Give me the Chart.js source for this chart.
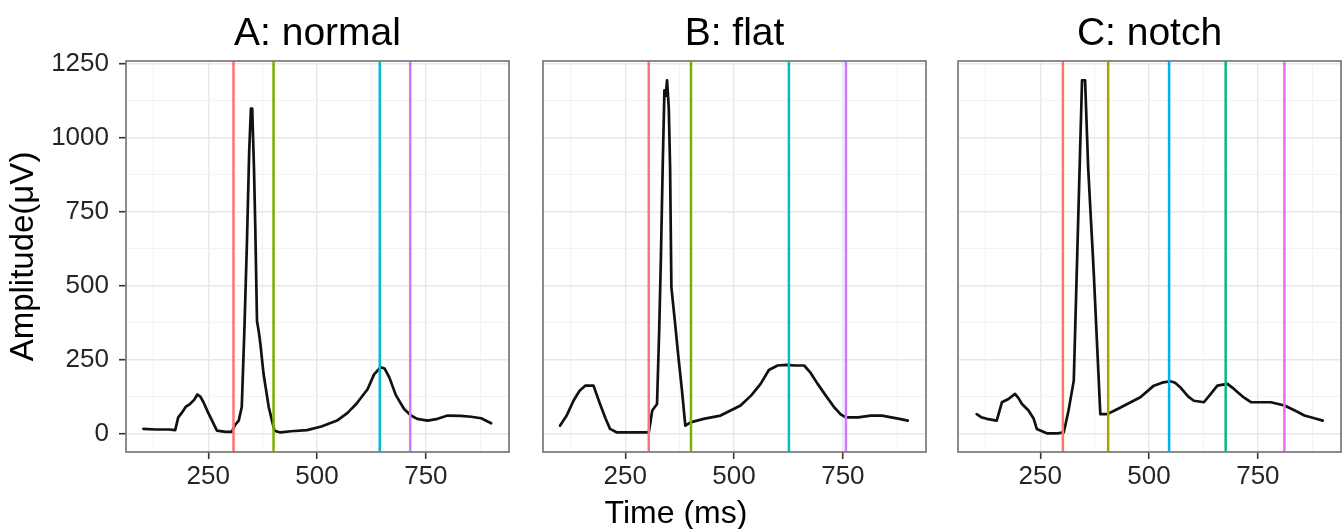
<!DOCTYPE html>
<html><head><meta charset="utf-8">
<script src="https://cdn.jsdelivr.net/npm/chart.js@4.4.1/dist/chart.umd.min.js"></script>
<style>
html,body{margin:0;padding:0;background:#fff;}
#wrap{position:relative;width:1342px;height:529px;overflow:hidden;background:#fff;}
canvas{position:absolute;top:0;}
</style></head><body>
<div id="wrap">
<canvas id="cA" width="520" height="529" style="left:0px"></canvas>
<canvas id="cB" width="420" height="529" style="left:520px"></canvas>
<canvas id="cC" width="402" height="529" style="left:940px"></canvas>
</div>
<script>
// ---- data ----
const panelTitles = ['A: normal', 'B: flat', 'C: notch'];
const xMajorTicks = [250, 500, 750];
const xMinorTicks = [125, 375, 625, 875];
const yMajorTicks = [0, 250, 500, 750, 1000, 1250];
const yMinorTicks = [125, 375, 625, 875, 1125];
const X_MIN = 61, X_MAX = 941, Y_MIN = -62, Y_MAX = 1258;

const timeA = [101,130,160,174,181,189,198,208,218,225,232,239,250,270,290,304,312,320,327,333,339,344,348,351,355,358,362,366,370,377,389,402,416,440,477,510,546,570,590,616,631,646,655,666,681,700,715,730,754,777,800,830,854,877,900];
const ampA  = [16,14,14,12,55,70,90,100,115,132,125,106,70,10,6,6,30,44,90,350,652,950,1097,1097,900,700,380,345,300,202,89,10,4,8,12,24,44,70,100,150,200,224,220,190,130,83,62,50,44,50,61,60,57,52,35];

const timeB = [100,115,131,145,158,177,192,205,215,231,260,290,304,308,312,318,323,328,332,336,340,343,346,348,350,353,356,364,372,380,388,400,430,469,515,540,561,580,600,620,640,661,676,692,710,730,745,757,785,814,840,861,880,899];
const ampB  = [27,60,111,145,162,162,100,50,16,4,4,4,4,40,78,90,100,350,600,900,1159,1140,1193,1193,1100,900,494,380,260,150,27,38,50,61,95,130,168,215,230,232,230,230,205,168,130,89,65,55,55,61,61,55,50,44];

const timeC = [104,115,127,150,162,177,192,200,208,223,235,242,265,290,304,315,327,335,346,353,360,373,388,404,430,450,480,511,530,549,560,572,590,603,626,645,657,680,695,715,734,760,780,811,835,857,880,899];
const ampC  = [66,55,50,44,106,117,134,120,100,78,50,16,1,1,4,78,179,606,1193,1193,900,540,66,66,85,100,123,162,172,177,172,156,125,111,106,140,162,168,151,125,106,106,106,95,78,61,52,44];

const vlinesA = [308, 400, 644, 714];
const vlinesB = [304, 401, 626, 757];
const vlinesC = [302, 406, 546, 676, 811];
const colors4 = ['#F8766D', '#7CAE00', '#00BFC4', '#C77CFF'];
const colors5 = ['#F8766D', '#A3A500', '#00B0F6', '#00BF7D', '#E76BF3'];

const FONT = '"Liberation Sans", Arial, Helvetica, sans-serif';

const panelPlugin = {
  id: 'panelDecor',
  afterDatasetsDraw(chart, args, opts) {
    const ca = chart.chartArea, ctx = chart.ctx;
    ctx.save();
    ctx.strokeStyle = '#7f7f7f';
    ctx.lineWidth = 1.8;
    ctx.strokeRect(ca.left, ca.top, ca.right - ca.left, ca.bottom - ca.top);
    ctx.restore();
  },
  afterDraw(chart, args, opts) {
    const ca = chart.chartArea, ctx = chart.ctx;
    ctx.save();
    ctx.fillStyle = '#000';
    ctx.font = '39px ' + FONT;
    ctx.textAlign = 'center';
    ctx.textBaseline = 'alphabetic';
    ctx.fillText(opts.title, (ca.left + ca.right) / 2, 45);
    if (opts.xTitle) {
      ctx.font = '32px ' + FONT;
      ctx.fillText(opts.xTitle, opts.xTitleX, 523);
    }
    ctx.restore();
  }
};

function isMajor(list, v) { return list.indexOf(v) >= 0; }

function makeChart(id, times, amps, vlines, vcolors, title, opt) {
  const datasets = [];
  vlines.forEach((v, i) => {
    datasets.push({
      data: [{x: v, y: Y_MIN}, {x: v, y: Y_MAX}],
      borderColor: vcolors[i], borderWidth: 2.5, pointRadius: 0, showLine: true, fill: false
    });
  });
  datasets.push({
    data: times.map((t, i) => ({x: t, y: amps[i]})),
    borderColor: '#111', borderWidth: 2.7, pointRadius: 0, showLine: true, fill: false,
    tension: 0, borderJoinStyle: 'round', borderCapStyle: 'round'
  });
  return new Chart(document.getElementById(id), {
    type: 'scatter',
    data: { datasets },
    options: {
      responsive: false, animation: false,
      layout: { padding: { top: 61, right: opt.padRight, left: 0, bottom: 0 } },
      plugins: {
        legend: { display: false }, tooltip: { enabled: false },
        panelDecor: { title, xTitle: opt.xTitle, xTitleX: opt.xTitleX }
      },
      scales: {
        x: {
          type: 'linear', min: X_MIN, max: X_MAX,
          afterBuildTicks: s => { s.ticks = xMinorTicks.concat(xMajorTicks).sort((a,b)=>a-b).map(v => ({value: v})); },
          afterFit: s => { s.height = 77; },
          border: { display: false },
          grid: {
            color: c => (c.tick && isMajor(xMajorTicks, c.tick.value)) ? '#e8e8e8' : '#f2f2f2',
            lineWidth: c => (c.tick && isMajor(xMajorTicks, c.tick.value)) ? 1.4 : 0.9,
            drawTicks: true, tickLength: 7, tickWidth: 1.6,
            tickColor: c => (c.tick && isMajor(xMajorTicks, c.tick.value)) ? '#333' : 'rgba(0,0,0,0)'
          },
          ticks: {
            padding: 2, maxRotation: 0, autoSkip: false, color: '#262626',
            font: { family: FONT, size: 26 },
            callback: v => isMajor(xMajorTicks, v) ? String(v) : ''
          }
        },
        y: {
          type: 'linear', min: Y_MIN, max: Y_MAX,
          afterBuildTicks: s => { s.ticks = yMinorTicks.concat(yMajorTicks).sort((a,b)=>a-b).map(v => ({value: v})); },
          afterFit: s => { s.width = opt.yWidth; },
          border: { display: false },
          title: opt.yTitle ? { display: true, text: opt.yTitle, color: '#000', font: { family: FONT, size: 33 }, padding: { top: 4, bottom: 0 } } : { display: false },
          grid: {
            color: c => (c.tick && isMajor(yMajorTicks, c.tick.value)) ? '#e8e8e8' : '#f2f2f2',
            lineWidth: c => (c.tick && isMajor(yMajorTicks, c.tick.value)) ? 1.4 : 0.9,
            drawTicks: opt.yTicks, tickLength: 7, tickWidth: 1.6,
            tickColor: c => (c.tick && isMajor(yMajorTicks, c.tick.value)) ? '#333' : 'rgba(0,0,0,0)'
          },
          ticks: {
            display: opt.yTicks, padding: 10, autoSkip: false, color: '#262626',
            font: { family: FONT, size: 26 },
            callback: v => isMajor(yMajorTicks, v) ? String(v) : ''
          }
        }
      }
    },
    plugins: [panelPlugin]
  });
}

makeChart('cA', timeA, ampA, vlinesA, colors4, panelTitles[0], { padRight: 11, yWidth: 126, yTicks: true, yTitle: 'Amplitude(μV)' });
makeChart('cB', timeB, ampB, vlinesB, colors4, panelTitles[1], { padRight: 14, yWidth: 23, yTicks: false, xTitle: 'Time (ms)', xTitleX: 156 });
makeChart('cC', timeC, ampC, vlinesC, colors5, panelTitles[2], { padRight: 1, yWidth: 18, yTicks: false });
</script>
</body></html>
